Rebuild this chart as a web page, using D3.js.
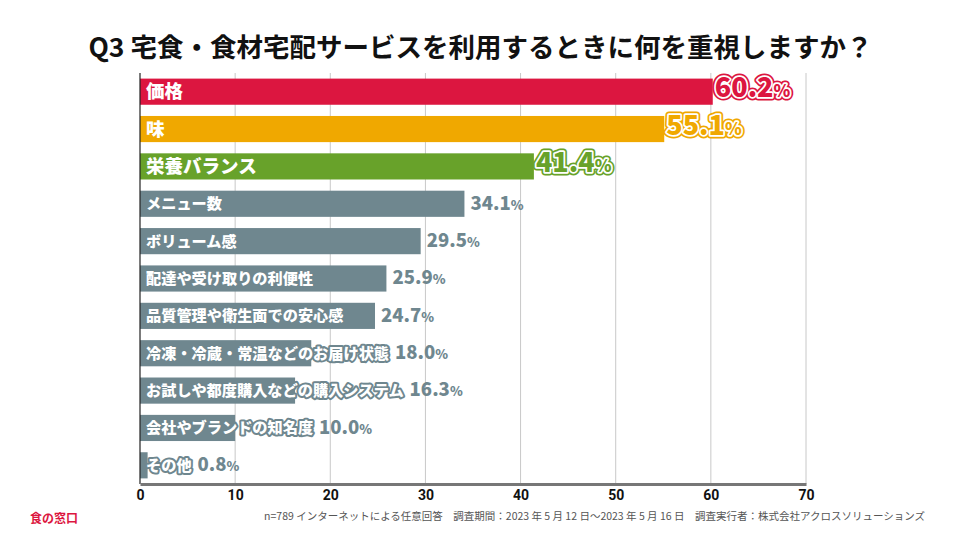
<!DOCTYPE html>
<html>
<head>
<meta charset="utf-8">
<script src="https://cdn.jsdelivr.net/npm/d3@7"></script>
<style>
  body { margin: 0; background: #fff; }
  text { font-family: "Noto Sans CJK JP", "Noto Sans", sans-serif; }
</style>
</head>
<body>
<svg id="chart" width="961" height="541"></svg>
<script>
// data
const categories = ["価格", "味", "栄養バランス", "メニュー数", "ボリューム感", "配達や受け取りの利便性",
  "品質管理や衛生面での安心感", "冷凍・冷蔵・常温などのお届け状態", "お試しや都度購入などの購入システム",
  "会社やブランドの知名度", "その他"];
const values = [60.2, 55.1, 41.4, 34.1, 29.5, 25.9, 24.7, 18.0, 16.3, 10.0, 0.8];
const barColors = ["#dc1640", "#f0a800", "#68a22a"];
const grayColor = "#6f878f";
const xTicks = [0, 10, 20, 30, 40, 50, 60, 70];

const titleText = "Q3 宅食・食材宅配サービスを利用するときに何を重視しますか？";
const noteText = "n=789 インターネットによる任意回答　調査期間：2023 年 5 月 12 日～2023 年 5 月 16 日　調査実行者：株式会社アクロスソリューションズ";
const logoText = "食の窓口";

const margin = { top: 73, left: 140, right: 155, bottom: 57 };
const width = 961, height = 541;

const svg = d3.select("#chart");

// scales
const x = d3.scaleLinear()
  .domain([0, 70])
  .range([margin.left, width - margin.right]);

const y = d3.scaleBand()
  .domain(categories)
  .range([margin.top, height - margin.bottom])
  .paddingInner(0.3)
  .paddingOuter(0.15);

// grid lines
svg.append("g")
  .attr("class", "grid")
  .selectAll("line")
  .data(xTicks.slice(1))
  .enter().append("line")
  .attr("x1", d => x(d)).attr("x2", d => x(d))
  .attr("y1", margin.top).attr("y2", height - margin.bottom)
  .attr("stroke", "#c8c8c8")
  .attr("stroke-width", 1);

// bars
svg.append("g")
  .selectAll("rect")
  .data(values)
  .enter().append("rect")
  .attr("x", x(0))
  .attr("y", (d, i) => y(categories[i]))
  .attr("width", d => x(d) - x(0))
  .attr("height", y.bandwidth())
  .attr("fill", (d, i) => i < 3 ? barColors[i] : grayColor);

// left axis line
svg.append("line")
  .attr("x1", x(0)).attr("x2", x(0))
  .attr("y1", margin.top).attr("y2", height - margin.bottom)
  .attr("stroke", "#222").attr("stroke-width", 1.2);

// bottom axis
let xAxis = d3.axisBottom(x)
  .tickValues(xTicks)
  .tickSize(0)
  .tickPadding(6)
  .tickFormat(d3.format("d"));

let axisG = svg.append("g")
  .attr("transform", "translate(0," + (height - margin.bottom) + ")")
  .call(xAxis);
axisG.select(".domain").attr("stroke", "#777").attr("stroke-width", 3);
axisG.selectAll("text")
  .style("font-family", "Roboto, 'Noto Sans', sans-serif")
  .style("font-size", "14px")
  .style("font-weight", "700")
  .style("fill", "#111");

// category labels + value labels
const rows = svg.append("g").selectAll("g")
  .data(values)
  .enter().append("g")
  .attr("transform", (d, i) => "translate(0," + (y(categories[i]) + y.bandwidth() / 2) + ")");

rows.each(function (d, i) {
  const g = d3.select(this);
  const top = i < 3;
  const col = top ? barColors[i] : grayColor;
  const labelSize = top ? 18.5 : 15.2;

  // outline pass then fill pass
  g.append("text")
    .attr("x", x(0) + 6).attr("dy", "0.36em")
    .style("font-size", labelSize + "px").style("font-weight", "900")
    .attr("fill", "none").attr("stroke", col).attr("stroke-width", 4)
    .attr("stroke-linejoin", "round")
    .text(categories[i]);
  const lbl = g.append("text")
    .attr("x", x(0) + 6).attr("dy", "0.36em")
    .style("font-size", labelSize + "px").style("font-weight", "900")
    .attr("fill", "#fff")
    .text(categories[i]);

  const labelEnd = x(0) + 6 + lbl.node().getComputedTextLength();
  const vx = top ? x(d) + 2 : Math.max(x(d), labelEnd) + 6;
  const numSize = top ? 27 : 18.5;
  const pctSize = top ? 17 : 13;

  const addVal = function (fill, stroke, sw) {
    const t = g.append("text")
      .attr("x", vx).attr("dy", "0.36em")
      .style("font-weight", "900")
      .attr("fill", fill)
      .attr("stroke", stroke).attr("stroke-width", sw)
      .attr("stroke-linejoin", "round");
    t.append("tspan").style("font-size", numSize + "px").text(d3.format(".1f")(d));
    t.append("tspan").style("font-size", pctSize + "px").text("%");
  };
  if (top) {
    addVal("none", col, 7);
    addVal("none", "#fff", 3.5);
    addVal(col, "none", 0);
  } else {
    addVal(col, "none", 0);
  }
});

// title
svg.append("text")
  .attr("x", width / 2).attr("y", 57)
  .attr("text-anchor", "middle")
  .style("font-size", "26.5px").style("font-weight", "700")
  .attr("fill", "#111")
  .text(titleText);

// note
svg.append("text")
  .attr("x", 925).attr("y", 520)
  .attr("text-anchor", "end")
  .style("font-size", "10.5px")
  .attr("fill", "#555")
  .text(noteText);

// logo
svg.append("text")
  .attr("x", 30).attr("y", 523)
  .style("font-size", "12px").style("font-weight", "700")
  .attr("fill", "#dc1640")
  .text(logoText);
</script>
</body>
</html>
